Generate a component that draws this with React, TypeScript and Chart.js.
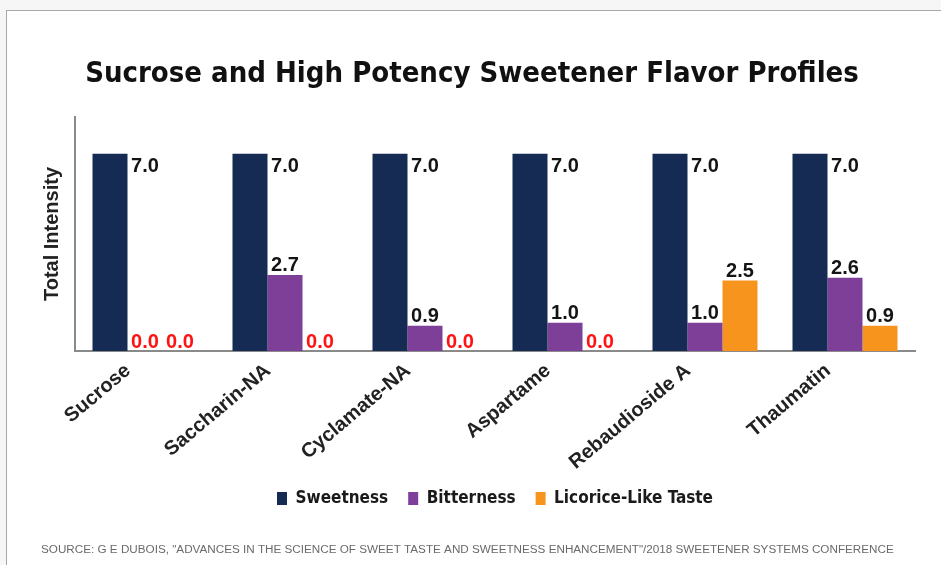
import React, { useEffect, useRef } from 'react';
import { Chart, registerables } from 'chart.js';

Chart.register(...registerables);

const categories = ['Sucrose', 'Saccharin-NA', 'Cyclamate-NA', 'Aspartame', 'Rebaudioside A', 'Thaumatin'];
const sweetness = [7.0, 7.0, 7.0, 7.0, 7.0, 7.0];
const bitterness = [0.0, 2.7, 0.9, 1.0, 1.0, 2.6];
const licorice = [0.0, 0.0, 0.0, 0.0, 2.5, 0.9];
const seriesNames = ['Sweetness', 'Bitterness', 'Licorice-Like Taste'];
const seriesColors = ['#152b53', '#7e3f98', '#f7941d'];
const titleText = 'Sucrose and High Potency Sweetener Flavor Profiles';
const yAxisTitle = 'Total Intensity';
const sourceText =
  'SOURCE: G E DUBOIS, "ADVANCES IN THE SCIENCE OF SWEET TASTE AND SWEETNESS ENHANCEMENT"/2018 SWEETENER SYSTEMS CONFERENCE';

const FAMILY = '"Liberation Sans", Arial, sans-serif';
const COND_FAMILY = '"DejaVu Sans Condensed", "Liberation Sans", Arial, sans-serif';

const valueLabels = {
  id: 'valueLabels',
  afterDatasetsDraw(chart: any) {
    const ctx = chart.ctx;
    ctx.save();
    ctx.font = `bold 20px ${FAMILY}`;
    ctx.textAlign = 'center';
    ctx.textBaseline = 'alphabetic';
    chart.data.datasets.forEach((ds: any, di: number) => {
      const meta = chart.getDatasetMeta(di);
      meta.data.forEach((bar: any, i: number) => {
        const v = ds.data[i] as number;
        const text = v.toFixed(1);
        const { x, y, width } = bar.getProps(['x', 'y', 'width'], true);
        if (v === 0) {
          ctx.fillStyle = '#ff1212';
          ctx.fillText(text, x, chart.chartArea.bottom - 3);
        } else if (di === 0) {
          ctx.fillStyle = '#141414';
          ctx.fillText(text, x + width, y + 18);
        } else {
          ctx.fillStyle = '#141414';
          ctx.fillText(text, x, y - 4);
        }
      });
    });
    ctx.restore();
  },
};

const sourceLine = {
  id: 'sourceLine',
  afterDraw(chart: any) {
    const ctx = chart.ctx;
    ctx.save();
    ctx.font = `11.7px ${FAMILY}`;
    ctx.fillStyle = '#6a6a6a';
    ctx.textAlign = 'left';
    ctx.textBaseline = 'alphabetic';
    ctx.fillText(sourceText, chart.chartArea.left - 34, chart.height - 12);
    ctx.restore();
  },
};

export default function App() {
  const ref = useRef<HTMLCanvasElement | null>(null);

  useEffect(() => {
    if (!ref.current) return;
    Chart.defaults.font.family = FAMILY;
    const values = [sweetness, bitterness, licorice];
    const chart = new Chart(ref.current, {
      type: 'bar',
      data: {
        labels: categories,
        datasets: values.map((d, i) => ({
          label: seriesNames[i],
          data: d,
          backgroundColor: seriesColors[i],
          categoryPercentage: 0.75,
          barPercentage: 1.0,
        })),
      },
      options: {
        responsive: false,
        animation: false,
        layout: { padding: { left: 29, right: 26, top: 0, bottom: 48 } },
        plugins: {
          title: {
            display: true,
            text: titleText,
            color: '#111',
            font: { family: COND_FAMILY, size: 29, weight: 'bold' },
            padding: { top: 56.6, bottom: 25.6 },
          },
          legend: {
            position: 'bottom',
            fullSize: false,
            labels: {
              boxWidth: 10,
              boxHeight: 13,
              padding: 20,
              color: '#1a1a1a',
              font: { family: COND_FAMILY, size: 17, weight: 'bold' },
            },
          },
          tooltip: { enabled: false },
        },
        scales: {
          x: {
            grid: { display: false, drawTicks: false },
            border: { display: true, color: '#8a8a8a', width: 2 },
            ticks: {
              autoSkip: false,
              minRotation: 40,
              maxRotation: 40,
              padding: 8,
              labelOffset: -17,
              color: '#222',
              font: { family: FAMILY, size: 20, weight: 'bold' },
            },
            afterFit: (s: any) => {
              s.height = 119;
            },
          },
          y: {
            min: 0,
            max: 8.3,
            grid: { display: false },
            border: { display: true, color: '#8a8a8a', width: 2 },
            ticks: { display: false },
            title: {
              display: true,
              text: yAxisTitle,
              color: '#222',
              font: { family: FAMILY, size: 20, weight: 'bold' },
              padding: { top: 11, bottom: 0 },
            },
            afterFit: (s: any) => {
              s.width = 46;
            },
          },
        },
      } as any,
      plugins: [valueLabels, sourceLine],
    });
    return () => chart.destroy();
  }, []);

  return (
    <div
      style={{
        position: 'fixed',
        left: 0,
        top: 0,
        width: 941,
        height: 565,
        overflow: 'hidden',
        background: '#f6f6f6',
      }}
    >
      <div
        style={{
          position: 'absolute',
          left: 6,
          top: 10,
          width: 1000,
          height: 1000,
          background: '#ffffff',
          borderTop: '1px solid #a8a8a8',
          borderLeft: '1px solid #a8a8a8',
        }}
      />
      <canvas ref={ref} width={941} height={565} style={{ position: 'absolute', left: 0, top: 0 }} />
    </div>
  );
}
